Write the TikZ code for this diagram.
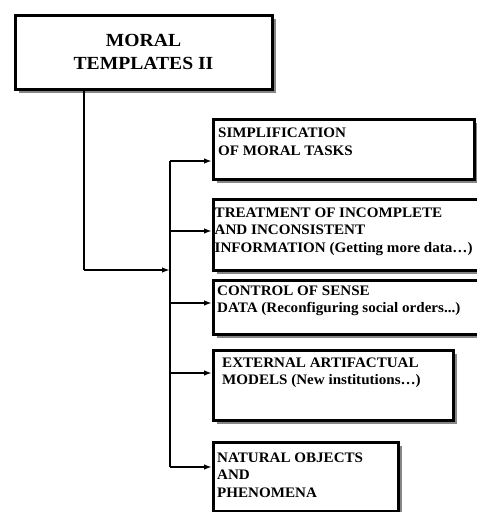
\documentclass[tikz,border=0pt]{standalone}
\usepackage{fontspec}
\usetikzlibrary{shadows,arrows.meta,positioning}
\newfontfamily\titlefont[FakeStretch=1.06]{Liberation Serif}
\newfontfamily\itemfont[FakeStretch=1.04]{Liberation Serif}

\begin{document}
\begin{tikzpicture}[x=1pt,y=-1pt]
  \tikzstyle{shadowbox}=[draw,fill=white,inner sep=0pt,anchor=north west,
    drop shadow={shadow xshift=3.5pt,shadow yshift=-3.5pt,fill=gray!95,opacity=1}]
  \tikzstyle{titlebox}=[shadowbox,line width=3pt,align=center,
    font=\titlefont\bfseries\fontsize{18.5}{23}\selectfont]
  \tikzstyle{itembox}=[shadowbox,line width=2.5pt]
  \tikzstyle{itemtext}=[anchor=base west,inner sep=0pt,align=left,
    font=\itemfont\bfseries\fontsize{14.5}{17.5}\selectfont]
  \tikzstyle{link}=[line width=1.8pt,-{Latex[length=8pt,width=5.5pt]}]
  \useasboundingbox (0,0) rectangle (477,512);

  \node[titlebox,minimum width=257pt,minimum height=74pt] (moral) at (13.5,13.5)
    {MORAL\\TEMPLATES II};

  \node[itembox,minimum width=261pt,minimum height=60pt] (simp) at (212,118) {};
  \node[itembox,minimum width=271pt,minimum height=71pt] (treat) at (212,198) {};
  \node[itembox,minimum width=271pt,minimum height=54pt] (sense) at (212,279) {};
  \node[itembox,minimum width=240pt,minimum height=70pt] (extern) at (212,349) {};
  \node[itembox,minimum width=185pt,minimum height=69pt] (natur) at (212,441) {};

  % text sits on the baseline of its last line
  \node[itemtext] (simptext) at (218,155) {SIMPLIFICATION\\OF MORAL TASKS};
  \node[itemtext] (treattext) at (214.5,252)
    {TREATMENT OF INCOMPLETE\\AND INCONSISTENT\\INFORMATION (Getting more data\ldots)};
  \node[itemtext] (sensetext) at (217,312.5)
    {CONTROL OF SENSE\\DATA (Reconfiguring social orders...)};
  \node[itemtext] (externtext) at (222,384.5)
    {EXTERNAL ARTIFACTUAL\\MODELS (New institutions\ldots)};
  \node[itemtext] (naturtext) at (217,497) {NATURAL OBJECTS\\AND\\PHENOMENA};

  % the bus and its taps
  \coordinate (bend) at (84,270);
  \coordinate (hub) at (170,270);
  \coordinate (tap1) at (170,161);
  \coordinate (tap2) at (170,231);
  \coordinate (tap3) at (170,303);
  \coordinate (tap4) at (170,373);
  \coordinate (tap5) at (170,467);

  \draw[line width=1.8pt] (moral.south -| bend) -- (bend);
  \draw[link] (bend) -- (hub);
  \draw[line width=1.8pt] (tap1) -- (tap5);
  \draw[link] (tap1) -- (tap1 -| simp.west);
  \draw[link] (tap2) -- (tap2 -| treat.west);
  \draw[link] (tap3) -- (tap3 -| sense.west);
  \draw[link] (tap4) -- (tap4 -| extern.west);
  \draw[link] (tap5) -- (tap5 -| natur.west);
\end{tikzpicture}
\end{document}
